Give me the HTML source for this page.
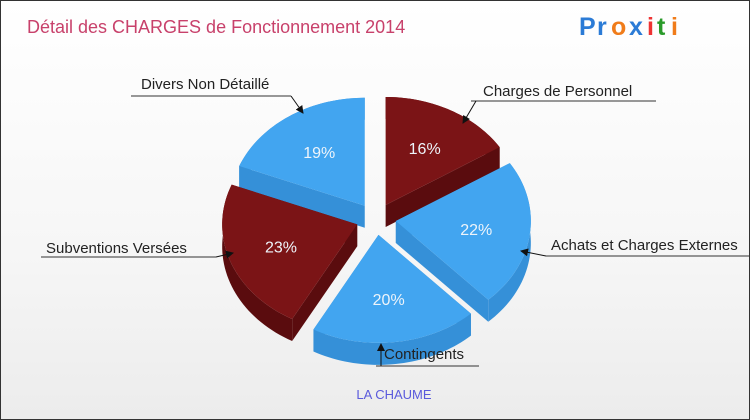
<!DOCTYPE html>
<html><head><meta charset="utf-8"><style>
body{margin:0}
#c{width:748px;height:418px;border:1px solid #333;background:linear-gradient(#fff,#f6f6f6 60%,#ececec);position:relative;overflow:hidden;font-family:"Liberation Sans",sans-serif}
</style></head><body>
<div id="c">
<svg width="748" height="418" id="svg">
<text x="26" y="32" font-size="18" fill="#c8416b">Détail des CHARGES de Fonctionnement 2014</text>
<g font-size="25" font-weight="bold">
<text x="578" y="34" fill="#2b7bd6">P</text><text x="596" y="34" fill="#2b7bd6">r</text><text x="610" y="34" fill="#f07c1a">o</text><text x="628" y="34" fill="#2b7bd6">x</text><text x="646" y="34" fill="#e33">i</text><text x="656" y="34" fill="#2a9a2a">t</text><text x="670" y="34" fill="#f07c1a">i</text></g>
<g id="pie"></g>
<g id="lbl" font-size="15" fill="#222"></g>
<text x="393" y="398" font-size="13" fill="#5a5adc" text-anchor="middle">LA CHAUME</text>
</svg></div>
<script>
const categories=["Charges de Personnel","Achats et Charges Externes","Contingents","Subventions Versées","Divers Non Détaillé"];
const values=[16,22,20,23,19];
const pctLabels=["16%","22%","20%","23%","19%"];
const NS="http://www.w3.org/2000/svg";
const cx=375,cy=218,rx=135,ry=108,ex=20,dep=22;
const tops=["#7b1416","#42a5f0","#42a5f0","#7b1416","#42a5f0"];
const sides=["#5a0c0e","#3590d8","#3590d8","#5a0c0e","#3590d8"];
const total=values.reduce((a,b)=>a+b,0);
const pie=document.getElementById('pie');
function pt(ox,oy,t,r){return [ox+rx*r*Math.sin(t),oy-ry*r*Math.cos(t)];}
let a=0;const sl=[];
values.forEach((v,i)=>{const a1=a,a2=a+v/total*2*Math.PI;a=a2;const m=(a1+a2)/2;
sl.push({i,a1,a2,m,ox:cx+ex*Math.sin(m),oy:cy-ex*ry/rx*Math.cos(m)});});
function mk(tag,at){const e=document.createElementNS(NS,tag);for(const k in at)e.setAttribute(k,at[k]);return e;}
const order=[...sl].sort((p,q)=>(-Math.cos(p.m))-(-Math.cos(q.m)));
order.forEach(s=>{
  const g=mk('g',{});
  
  
  [s.a1,s.a2].forEach(t=>{const p=pt(s.ox,s.oy,t,1);
    const w=mk('polygon',{points:`${s.ox},${s.oy} ${p[0]},${p[1]} ${p[0]},${p[1]+dep} ${s.ox},${s.oy+dep}`,fill:sides[s.i]});g.appendChild(w);});
  let up=[],dn=[];for(let k=0;k<=40;k++){const t=s.a1+(s.a2-s.a1)*k/40;const p=pt(s.ox,s.oy,t,1);up.push(p);dn.unshift([p[0],p[1]+dep]);}
  g.appendChild(mk('polygon',{points:up.concat(dn).map(p=>p.join(',')).join(' '),fill:sides[s.i]}));
  pie.appendChild(g);
});
sl.forEach(s=>{
  let pts=[[s.ox,s.oy]];for(let k=0;k<=40;k++){pts.push(pt(s.ox,s.oy,s.a1+(s.a2-s.a1)*k/40,1));}
  const p=mk('polygon',{points:pts.map(q=>q.join(',')).join(' '),fill:tops[s.i]});
  
  
  pie.appendChild(p);
  const lp=pt(s.ox,s.oy,s.m,0.6);
  const t=mk('text',{x:lp[0],y:lp[1]+6,'text-anchor':'middle','font-size':16,fill:'#eef4fa'});t.textContent=pctLabels[s.i];
  
  
  pie.appendChild(t);
});
const lbl=document.getElementById('lbl');
const L=[[482,95,470,655,100,475,100,462,122],[550,249,545,750,255,545,255,520,250],[383,358,375,478,365,380,365,380,343],[45,252,40,215,256,215,256,232,252],[140,88,130,290,95,290,95,302,112]];
const defs=mk('defs',{});defs.innerHTML='<marker id="ar" markerWidth="8" markerHeight="8" refX="7" refY="4" orient="auto"><path d="M0,0L8,4L0,8z" fill="#111"/></marker>';lbl.appendChild(defs);
L.forEach((l,i)=>{const t=mk('text',{x:l[0],y:l[1]});t.textContent=categories[i];


lbl.appendChild(t);
lbl.appendChild(mk('line',{x1:l[2],y1:l[4],x2:l[3],y2:l[4],stroke:'#333','stroke-width':1}));
lbl.appendChild(mk('line',{x1:l[5],y1:l[6],x2:l[7],y2:l[8],stroke:'#111','stroke-width':1,'marker-end':'url(#ar)'}));});
</script>
</body></html>
